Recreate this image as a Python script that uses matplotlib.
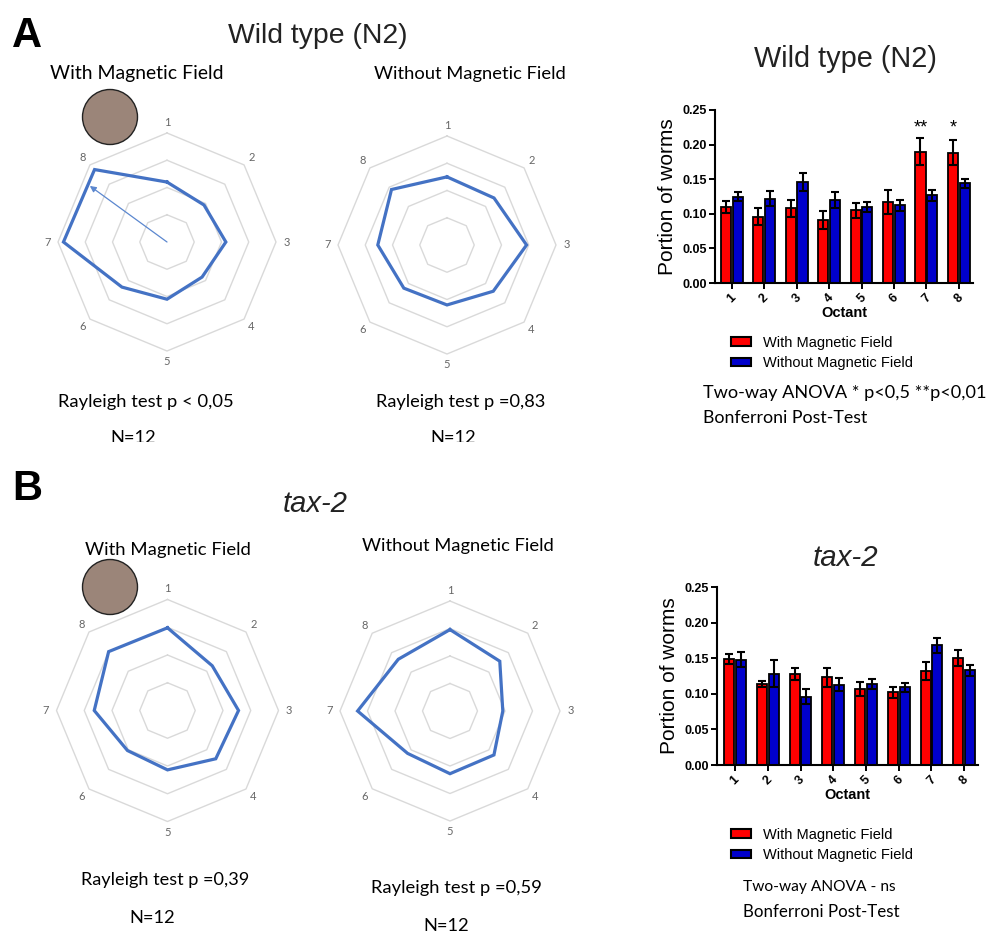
import numpy as np
import matplotlib
matplotlib.use("Agg")
import matplotlib.pyplot as plt
from matplotlib.patches import Circle, Patch
from matplotlib.transforms import Bbox

# ---------------- data ----------------
octants = ["1", "2", "3", "4", "5", "6", "7", "8"]

wt_with_mean = [0.110, 0.096, 0.108, 0.091, 0.105, 0.117, 0.190, 0.188]
wt_with_err = [0.009, 0.012, 0.012, 0.013, 0.011, 0.017, 0.020, 0.018]
wt_without_mean = [0.125, 0.122, 0.146, 0.120, 0.110, 0.112, 0.127, 0.144]
wt_without_err = [0.007, 0.011, 0.013, 0.011, 0.007, 0.008, 0.008, 0.007]

tax2_with_mean = [0.149, 0.114, 0.128, 0.123, 0.107, 0.102, 0.132, 0.150]
tax2_with_err = [0.007, 0.004, 0.008, 0.013, 0.010, 0.008, 0.013, 0.011]
tax2_without_mean = [0.148, 0.128, 0.096, 0.113, 0.114, 0.109, 0.168, 0.133]
tax2_without_err = [0.011, 0.019, 0.011, 0.009, 0.007, 0.006, 0.011, 0.008]

ring_levels = [0.05, 0.10, 0.15, 0.20]
wt_arrow_angle_deg = 306      # mean vector direction (clockwise from octant 1)
wt_arrow_length = 0.175

wt_sig_octants = [7, 8]
wt_sig_labels = ["**", "*"]

yticks = [0.00, 0.05, 0.10, 0.15, 0.20, 0.25]
legend_labels = ["With Magnetic Field", "Without Magnetic Field"]

# ---------------- figure ----------------
W, H = 988, 936
fig = plt.figure(figsize=(W / 100, H / 100), dpi=100)
renderer = fig.canvas.get_renderer()

CAL = ["Lato", "DejaVu Sans"]
ARIAL = ["Liberation Sans", "DejaVu Sans"]
RADAR_BLUE = "#4472C4"


def fx(x):
    return x / W


def fy(y):
    return 1 - y / H


def fit_text(s, x, y, width_px, ha="center", va="center", **kw):
    t = fig.text(fx(x), fy(y), s, fontsize=10, ha=ha, va=va, **kw)
    w = t.get_window_extent(renderer).width
    t.set_fontsize(10 * width_px / w)
    return t


def radar(cx, cy, R, values, arrow=None):
    ax = fig.add_axes([(cx - R) / W, 1 - (cy + R) / H, 2 * R / W, 2 * R / H],
                      projection="polar")
    ax.set_theta_zero_location("N")
    ax.set_theta_direction(-1)
    ax.set_ylim(0, 0.2)
    ax.axis("off")
    theta = np.deg2rad(np.arange(len(octants)) * 45.0)
    thc = np.append(theta, theta[0])
    for r in ring_levels:
        ax.plot(thc, [r] * len(thc), color="#d9d9d9", lw=1.0, clip_on=False)
    vals = np.append(values, values[0])
    ax.plot(thc, vals, color=RADAR_BLUE, lw=2.3, clip_on=False,
            solid_joinstyle="miter")
    for th, lab in zip(theta, octants):
        ax.text(th, 0.219, lab, ha="center", va="center", fontsize=8,
                color="#666666", family=CAL)
    if arrow is not None:
        ang, length = arrow
        ax.annotate("", xy=(np.deg2rad(ang), length), xytext=(0, 0),
                    arrowprops=dict(arrowstyle="-|>", color="#5b87cf", lw=0.9,
                                    mutation_scale=9, shrinkA=0, shrinkB=0))
    return ax


def bar_panel(rect_px, xlim, w_mean, w_err, wo_mean, wo_err, sig=None):
    left, top, right, bottom = rect_px
    ax = fig.add_axes([fx(left), fy(bottom), (right - left) / W, (bottom - top) / H])
    x = np.arange(1, len(octants) + 1)
    ekw = dict(ecolor="black", elinewidth=1.5, capsize=3, capthick=1.5)
    ax.bar(x - 0.18, w_mean, 0.31, yerr=w_err, color="#ff0000",
           edgecolor="black", linewidth=1.3, error_kw=ekw)
    ax.bar(x + 0.18, wo_mean, 0.31, yerr=wo_err, color="#0000cc",
           edgecolor="black", linewidth=1.3, error_kw=ekw)
    ax.set_ylim(0, 0.25)
    ax.set_xlim(*xlim)
    ax.set_yticks(yticks)
    ax.set_yticklabels([f"{v:.2f}" for v in yticks], fontweight="bold",
                       fontsize=9, family=ARIAL)
    ax.set_xticks(x)
    ax.set_xticklabels(octants, rotation=45, fontweight="bold", fontsize=9,
                       family=ARIAL)
    for sp in ["top", "right"]:
        ax.spines[sp].set_visible(False)
    for sp in ["left", "bottom"]:
        ax.spines[sp].set_linewidth(1.5)
    ax.tick_params(width=1.4, length=4, pad=2)
    ax.set_ylabel("Portion of worms", fontsize=15, family=ARIAL, labelpad=4)
    ax.set_xlabel("Octant", fontsize=10.5, fontweight="bold", family=ARIAL,
                  labelpad=1)
    if sig is not None:
        pos, labs = sig
        for p, lab in zip(pos, labs):
            ax.text(p - 0.18, 0.224, lab, ha="center", va="center",
                    fontsize=13, family=ARIAL)
    return ax


# ---------------- panel letters & titles ----------------
fig.text(fx(12), fy(47), "A", fontsize=30, fontweight="bold", family=ARIAL,
         ha="left", va="baseline")
fig.text(fx(12), fy(500), "B", fontsize=30, fontweight="bold", family=ARIAL,
         ha="left", va="baseline")

fit_text("Wild type (N2)", 317.5, 43, 181, va="baseline", family=ARIAL,
         color="#222222")
fit_text("tax-2", 315, 512, 65, va="baseline", family=ARIAL, style="italic",
         color="#222222")
fit_text("Wild type (N2)", 845, 67, 184, va="baseline", family=ARIAL,
         color="#222222")
fit_text("tax-2", 845, 566, 66, va="baseline", family=ARIAL, style="italic",
         color="#222222")

# ---------------- radar headings & stats text ----------------
fit_text("With Magnetic Field", 136.5, 74, 173, family=CAL)
fit_text("Without Magnetic Field", 470, 74, 192, family=CAL)
fit_text("With Magnetic Field", 167.5, 550, 165, family=CAL)
fit_text("Without Magnetic Field", 458, 546, 192, family=CAL)

fit_text("Rayleigh test p < 0,05", 145.5, 402, 175, family=CAL)
fit_text("Rayleigh test p =0,83", 460.5, 402, 169, family=CAL)
fit_text("Rayleigh test p =0,39", 165, 880, 168, family=CAL)
fit_text("Rayleigh test p =0,59", 456, 888, 170, family=CAL)

# the "N=12" lines of panel A are cut at the bottom in the original
clip_a = Bbox.from_extents(0, H - 442, W, H)
for xc in (133, 453):
    t = fit_text("N=12", xc, 438, 46, family=CAL)
    t.set_clip_box(clip_a)
    t.set_clip_on(True)
fit_text("N=12", 152, 918, 46, family=CAL)
fit_text("N=12", 446, 926, 46, family=CAL)

# ---------------- magnet circles ----------------
for (cx, cy) in [(110, 117), (110, 587)]:
    fig.add_artist(Circle((cx / 100, (H - cy) / 100), 27.5 / 100,
                          transform=fig.dpi_scale_trans, facecolor="#9b8579",
                          edgecolor="#222222", lw=1.0))

# ---------------- radars ----------------
radar(167, 242, 109, wt_with_mean, arrow=(wt_arrow_angle_deg, wt_arrow_length))
radar(447, 245, 109, wt_without_mean)
radar(167.5, 710.5, 111, tax2_with_mean)
radar(450, 711, 110, tax2_without_mean)

# ---------------- bar charts ----------------
bar_panel((715, 110, 973, 283), (0.48, 8.44), wt_with_mean, wt_with_err,
          wt_without_mean, wt_without_err, sig=(wt_sig_octants, wt_sig_labels))
bar_panel((717, 587, 978, 765), (0.45, 8.42), tax2_with_mean, tax2_with_err,
          tax2_without_mean, tax2_without_err)

# ---------------- legends & stats ----------------
handles = [Patch(facecolor="#ff0000", edgecolor="black", lw=1.5),
           Patch(facecolor="#0000cc", edgecolor="black", lw=1.5)]
for top in (336, 828):
    fig.legend(handles, legend_labels, loc="upper left",
               bbox_to_anchor=(fx(731), fy(top)), frameon=False,
               prop=dict(family=ARIAL, size=10.5), handlelength=1.4,
               handleheight=0.55, handletextpad=0.8, labelspacing=0.42,
               borderpad=0, borderaxespad=0)

fit_text("Two-way ANOVA * p<0,5 **p<0,01", 703, 393, 282, ha="left", family=CAL)
fit_text("Bonferroni Post-Test", 703, 418, 165, ha="left", family=CAL)
fit_text("Two-way ANOVA - ns", 743, 887, 152, ha="left", family=CAL)
fit_text("Bonferroni Post-Test", 743, 912, 157, ha="left", family=CAL)

fig.savefig("out.png", dpi=100)
